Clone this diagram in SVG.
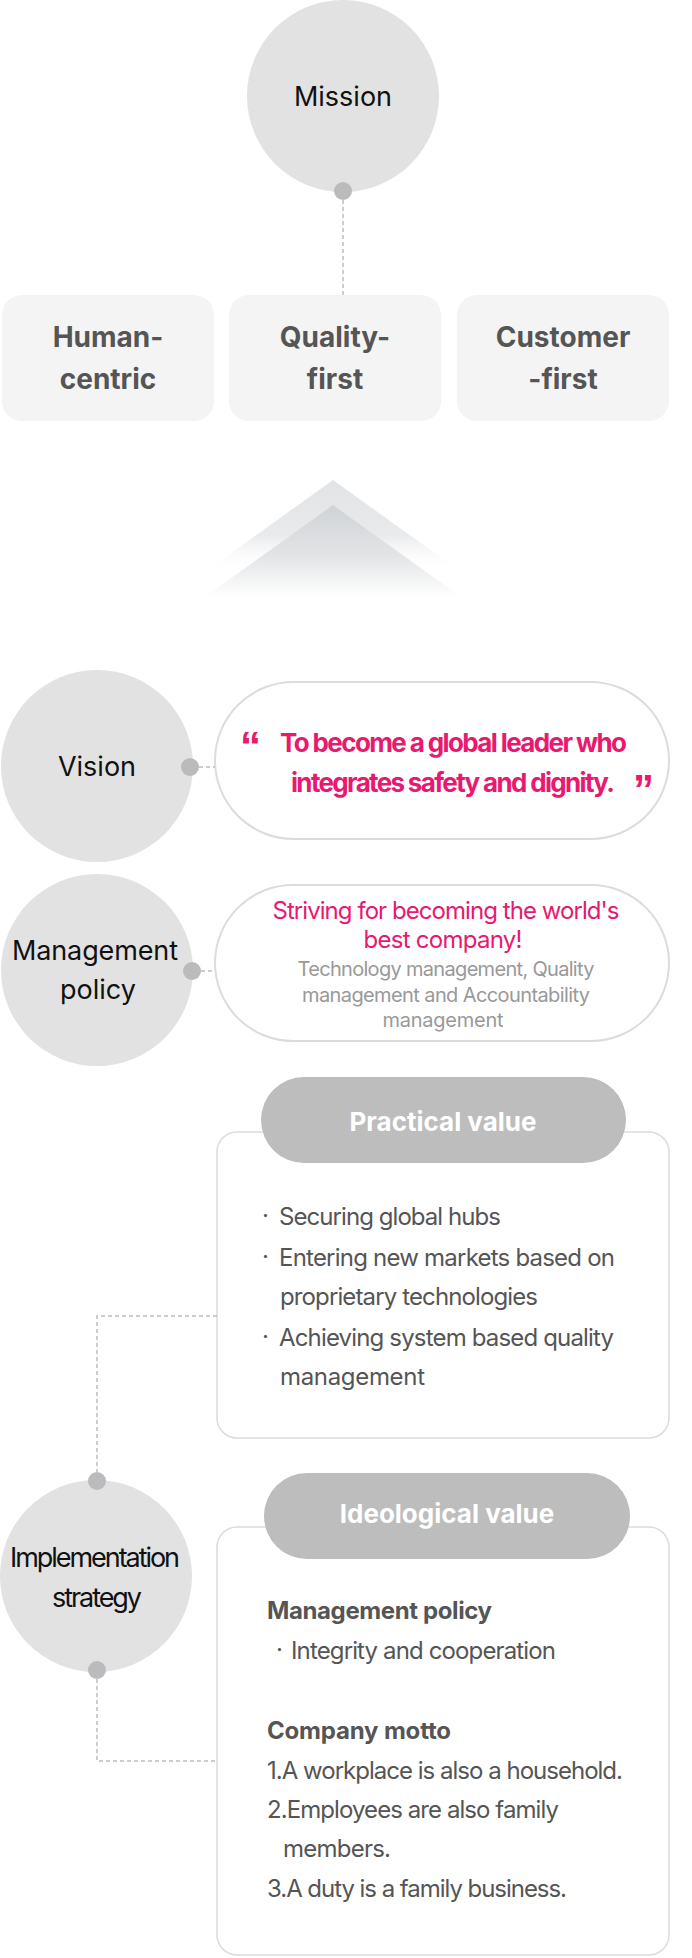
<svg xmlns="http://www.w3.org/2000/svg" width="692" height="1958" viewBox="0 0 692 1958">
<style>
text{font-family:Inter,"Noto Sans","Liberation Sans",sans-serif}
.circ{fill:#e2e2e2}
.clab{font-size:27px;fill:#111;text-anchor:middle}
.box{fill:#f4f4f4}
.blab{font-size:28px;font-weight:700;fill:#555;text-anchor:middle}
.pill{fill:#fff;stroke:#dcdcdc;stroke-width:2}
.card{fill:#fff;stroke:#dcdcdc;stroke-width:1.5}
.tag{fill:#bdbdbd}
.tlab{font-size:26px;font-weight:700;fill:#fff;text-anchor:middle}
.pink{fill:#e8196f}
.vq{font-size:26px;font-weight:700}
.qm{font-family:"Liberation Sans",Arial,sans-serif;font-size:42px;font-weight:700}
.mp{font-size:24px;text-anchor:middle}
.gray{font-size:20px;fill:#999;text-anchor:middle}
.body{font-size:24px;fill:#555}
.bold{font-weight:700}
.dash{fill:none;stroke:#bdbdbd;stroke-width:1.5;stroke-dasharray:4 3}
.dot{fill:#bbbbbd}
</style>
<defs>
<linearGradient id="g1" x1="0" y1="0" x2="0" y2="1">
<stop offset="0" stop-color="#e1e3e5"/>
<stop offset="0.6" stop-color="#e9eaec"/>
<stop offset="1" stop-color="#ffffff" stop-opacity="0"/>
</linearGradient>
<linearGradient id="g2" x1="0" y1="0" x2="0" y2="1">
<stop offset="0" stop-color="#d0d3d6"/>
<stop offset="0.55" stop-color="#e2e4e6"/>
<stop offset="1" stop-color="#ffffff"/>
</linearGradient>
</defs>

<g id="mission">
<circle class="circ" cx="343" cy="96" r="96"/>
<text class="clab" x="343" y="106">Mission</text>
</g>

<g id="human-centric">
<rect class="box" x="2" y="295" width="212" height="126" rx="20"/>
<text class="blab" x="108" y="347">Human-</text>
<text class="blab" x="108" y="389">centric</text>
</g>
<g id="quality-first">
<rect class="box" x="229" y="295" width="212" height="126" rx="20"/>
<text class="blab" x="335" y="347">Quality-</text>
<text class="blab" x="335" y="389">first</text>
</g>
<g id="customer-first">
<rect class="box" x="457" y="295" width="212" height="126" rx="20"/>
<text class="blab" x="563" y="347">Customer</text>
<text class="blab" x="563" y="389">-first</text>
</g>

<g id="chevron">
<polygon points="333,480 205,572 461,572" fill="url(#g1)"/>
<polygon points="333,505 205,597 461,597" fill="url(#g2)"/>
</g>

<g id="vision">
<circle class="circ" cx="97" cy="766" r="96"/>
<text class="clab" x="97" y="776">Vision</text>
</g>
<g id="vision-statement">
<rect class="pill" x="215" y="682" width="454" height="157" rx="78.5"/>
<text class="pink qm" x="240" y="761">“</text>
<text class="pink vq" x="280" y="752" textLength="347">To become a global leader who</text>
<text class="pink vq" x="291" y="792" textLength="324">integrates safety and dignity.</text>
<text class="pink qm" x="633" y="804">”</text>
</g>

<g id="management-policy">
<circle class="circ" cx="97" cy="970" r="96"/>
<text class="clab" x="95" y="960" textLength="166">Management</text>
<text class="clab" x="98" y="999">policy</text>
</g>
<g id="management-statement">
<rect class="pill" x="215" y="885" width="454" height="156" rx="78"/>
<text class="pink mp" x="446" y="919" textLength="347">Striving for becoming the world's</text>
<text class="pink mp" x="443" y="948" textLength="159">best company!</text>
<text class="gray" x="446" y="976" textLength="297">Technology management, Quality</text>
<text class="gray" x="446" y="1002" textLength="288">management and Accountability</text>
<text class="gray" x="443" y="1027" textLength="121">management</text>
</g>

<g id="practical-value">
<rect class="card" x="217" y="1132" width="452" height="306" rx="20"/>
<rect class="tag" x="261" y="1077" width="365" height="86" rx="43"/>
<text class="tlab" x="443" y="1131">Practical value</text>
<text class="body" x="262" y="1224">·</text>
<text class="body" x="279" y="1225" textLength="222">Securing global hubs</text>
<text class="body" x="262" y="1265">·</text>
<text class="body" x="279" y="1266" textLength="336">Entering new markets based on</text>
<text class="body" x="280" y="1305" textLength="258">proprietary technologies</text>
<text class="body" x="262" y="1345">·</text>
<text class="body" x="279" y="1346" textLength="335">Achieving system based quality</text>
<text class="body" x="280" y="1385" textLength="145">management</text>
</g>

<g id="implementation-strategy">
<circle class="circ" cx="96" cy="1576" r="96"/>
<text class="clab" x="95" y="1567" textLength="170">Implementation</text>
<text class="clab" x="97" y="1607" textLength="90">strategy</text>
</g>

<g id="ideological-value">
<rect class="card" x="217" y="1527" width="452" height="428" rx="20"/>
<rect class="tag" x="264" y="1473" width="366" height="86" rx="43"/>
<text class="tlab" x="447" y="1523">Ideological value</text>
<text class="body bold" x="267" y="1619" textLength="225">Management policy</text>
<text class="body" x="276" y="1658">·</text>
<text class="body" x="291" y="1659" textLength="265">Integrity and cooperation</text>
<text class="body bold" x="267" y="1739" textLength="184">Company motto</text>
<text class="body" x="267" y="1779" textLength="356">1.A workplace is also a household.</text>
<text class="body" x="267" y="1818" textLength="292">2.Employees are also family</text>
<text class="body" x="283" y="1857" textLength="108">members.</text>
<text class="body" x="267" y="1897" textLength="300">3.A duty is a family business.</text>
</g>

<g id="connectors">
<line class="dash" x1="343" y1="200" x2="343" y2="295"/>
<circle class="dot" cx="343" cy="191" r="9"/>
<line class="dash" x1="199" y1="767" x2="215" y2="767"/>
<circle class="dot" cx="190" cy="767" r="9"/>
<line class="dash" x1="201" y1="971" x2="215" y2="971"/>
<circle class="dot" cx="192" cy="971" r="9"/>
<path class="dash" d="M217,1316 H97 V1472"/>
<circle class="dot" cx="97" cy="1481" r="9"/>
<path class="dash" d="M97,1679 V1761 H217"/>
<circle class="dot" cx="97" cy="1670" r="9"/>
</g>
</svg>
